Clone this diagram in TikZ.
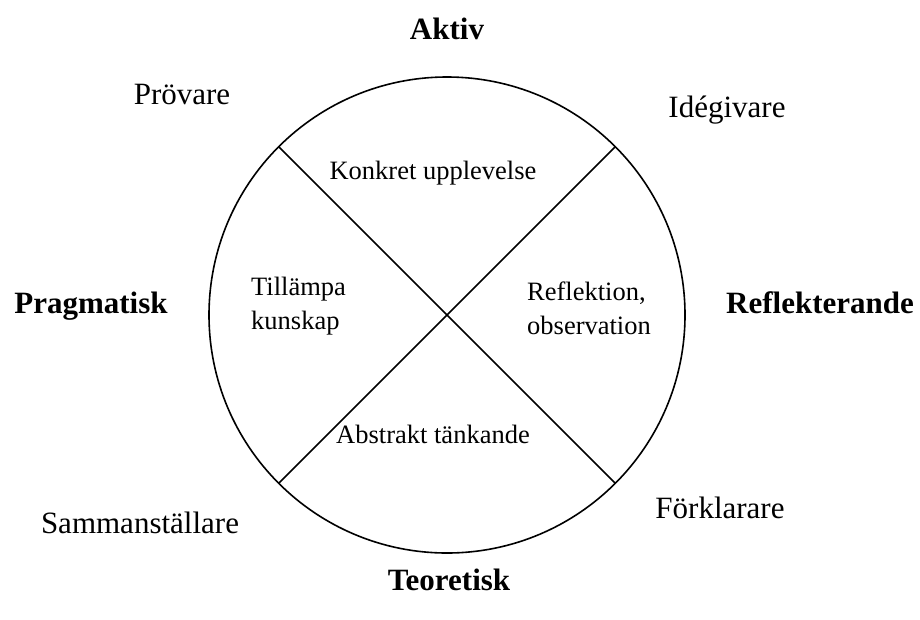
\documentclass[tikz,border=0pt]{standalone}
\usepackage{fontspec}
\setmainfont{Liberation Serif}
\begin{document}
\begin{tikzpicture}[x=1pt,y=-1pt,
  outer/.style={anchor=base,inner sep=0pt,font=\fontsize{31}{36}\selectfont},
  pole/.style={outer,font=\fontsize{31}{36}\selectfont\bfseries},
  inner/.style={anchor=base,inner sep=0pt,font=\fontsize{26.5}{34.5}\selectfont},
  innerleft/.style={anchor=base west,inner sep=0pt,font=\fontsize{26.5}{34.5}\selectfont,align=left},
  ring/.style={circle,draw,line width=1.6pt,inner sep=0pt,outer sep=0pt,minimum size=476pt},
  divider/.style={line width=1.6pt}]
\useasboundingbox (0,0) rectangle (920,619);
\node[ring] (circ) at (447,315) {};
\draw[divider] (circ.135) -- (circ.-45);
\draw[divider] (circ.45) -- (circ.-135);
\node[pole] (aktiv) at (447,39) {Aktiv};
\node[pole] (pragm) at (91,313) {Pragmatisk};
\node[pole] (refl) at (820,313) {Reflekterande};
\node[pole] (teor) at (449,590) {Teoretisk};
\node[outer] (prov) at (182,104) {Prövare};
\node[outer] (ideg) at (727,117) {Idégivare};
\node[outer] (samm) at (140,533) {Sammanställare};
\node[outer] (fork) at (720,518) {Förklarare};
\node[inner] (konk) at (433,179) {Konkret upplevelse};
\node[inner] (abst) at (433,443) {Abstrakt tänkande};
\node[innerleft] (till) at (251,295) {Tillämpa};
\node[innerleft] (kuns) at (251,329) {kunskap};
\node[innerleft] (refo) at (527,300) {Reflektion,};
\node[innerleft] (obs) at (527,334) {observation};
\end{tikzpicture}
\end{document}
